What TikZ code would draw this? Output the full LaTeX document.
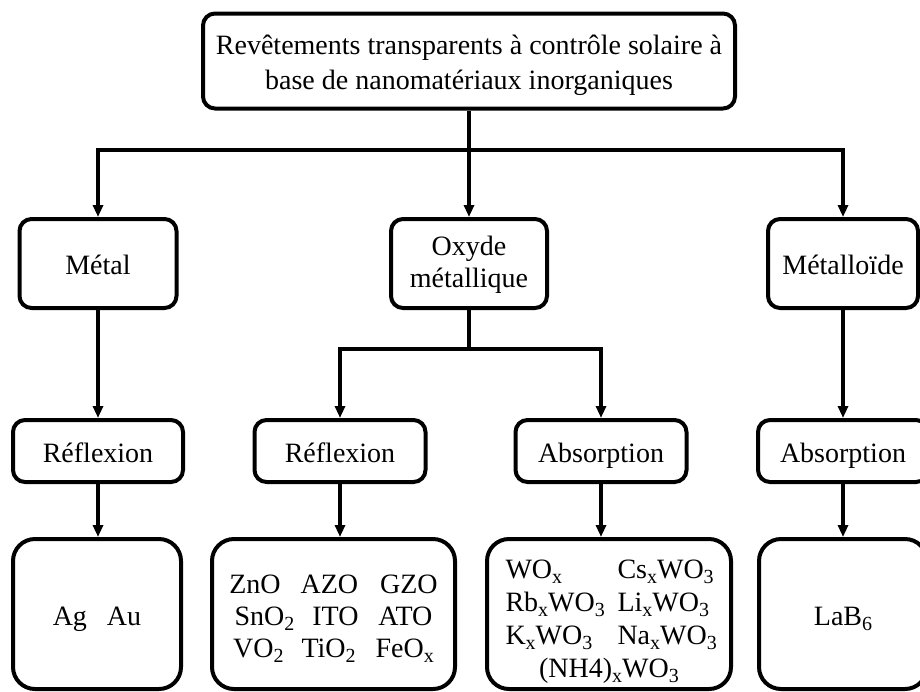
\documentclass[tikz,border=0pt]{standalone}
\usepackage{fontspec}
\setmainfont{Liberation Serif}
\usetikzlibrary{arrows.meta}
\newcommand\sbx[1]{\raisebox{-5.5pt}{\fontsize{20}{20}\selectfont #1}}
\newcommand\topstrut[1]{\rule{0pt}{#1}}
\newcommand\botstrut[1]{\rule[-#1]{0pt}{#1}}
\begin{document}
\begin{tikzpicture}[x=1pt,y=-1pt,
  box/.style={draw,line width=4pt,rounded corners=12pt,align=center,inner sep=0pt,
    font=\fontsize{28}{33}\selectfont},
  one/.style={text height=22pt,text depth=0pt},
  bigbox/.style={box,rounded corners=22pt},
  ln/.style={line width=3.2pt},
  arr/.style={line width=3.2pt,-{Triangle[length=12pt,width=10pt]}}]
\useasboundingbox (0,0) rectangle (920,691);
% top
\node[box,minimum width=532,minimum height=95,font=\fontsize{28}{35}\selectfont] (top) at (469,61)
  {\topstrut{28pt}Revêtements transparents à contrôle solaire à\\base de nanomatériaux inorganiques\botstrut{6pt}};
% row 1
\node[box,one,minimum width=157,minimum height=89] (metal) at (98,263.5) {Métal};
\node[box,minimum width=156,minimum height=89,font=\fontsize{28}{32}\selectfont] (oxyde) at (469,263.5)
  {\topstrut{22pt}Oxyde\\métallique\botstrut{7pt}};
\node[box,one,minimum width=150,minimum height=89] (metalloide) at (843,263.5) {Métalloïde};
% row 2
\node[box,one,minimum width=170,minimum height=62] (refl1) at (98,451) {Réflexion};
\node[box,one,minimum width=171,minimum height=62] (refl2) at (340,451) {Réflexion};
\node[box,one,minimum width=171,minimum height=62] (abs1) at (601,451) {Absorption};
\node[box,one,minimum width=170,minimum height=62] (abs2) at (843,451) {Absorption};
% row 3
\node[bigbox,one,minimum width=168,minimum height=150] (ag) at (97,614) {Ag\hspace{20pt}Au};
\node[bigbox,minimum width=243,minimum height=150,font=\fontsize{28}{32}\selectfont] (zno) at (333.5,614)
  {\topstrut{30pt}ZnO\hspace{20pt}AZO\hspace{22pt}GZO\\
   SnO\sbx{2}\hspace{18pt}ITO\hspace{20pt}ATO\\
   VO\sbx{2}\hspace{18pt}TiO\sbx{2}\hspace{20pt}FeO\sbx{x}\botstrut{8pt}};
\node[bigbox,minimum width=244,minimum height=150,font=\fontsize{28}{33}\selectfont] (wox) at (609,614)
  {\topstrut{35pt}\makebox[112pt][l]{WO\sbx{x}}\makebox[95pt][l]{Cs\sbx{x}WO\sbx{3}}\\
   \makebox[112pt][l]{Rb\sbx{x}WO\sbx{3}}\makebox[95pt][l]{Li\sbx{x}WO\sbx{3}}\\
   \makebox[112pt][l]{K\sbx{x}WO\sbx{3}}\makebox[95pt][l]{Na\sbx{x}WO\sbx{3}}\\
   (NH4)\sbx{x}WO\sbx{3}\botstrut{8pt}};
\node[bigbox,one,minimum width=168,minimum height=150] (lab) at (843,614) {LaB\sbx{6}};
% connectors
\coordinate (hub) at (469,150);
\coordinate (hub2) at (469,349);
\draw[ln] (top.south) -- (hub);
\draw[arr] (hub) -| (metal.north);
\draw[arr] (hub) -- (oxyde.north);
\draw[arr] (hub) -| (metalloide.north);
\draw[arr] (metal.south) -- (refl1.north);
\draw[ln] (oxyde.south) -- (hub2);
\draw[arr] (hub2) -| (refl2.north);
\draw[arr] (hub2) -| (abs1.north);
\draw[arr] (metalloide.south) -- (abs2.north);
\draw[arr] (refl1.south) -- (refl1.south |- ag.north);
\draw[arr] (refl2.south) -- (refl2.south |- zno.north);
\draw[arr] (abs1.south) -- (abs1.south |- wox.north);
\draw[arr] (abs2.south) -- (abs2.south |- lab.north);
\end{tikzpicture}
\end{document}
